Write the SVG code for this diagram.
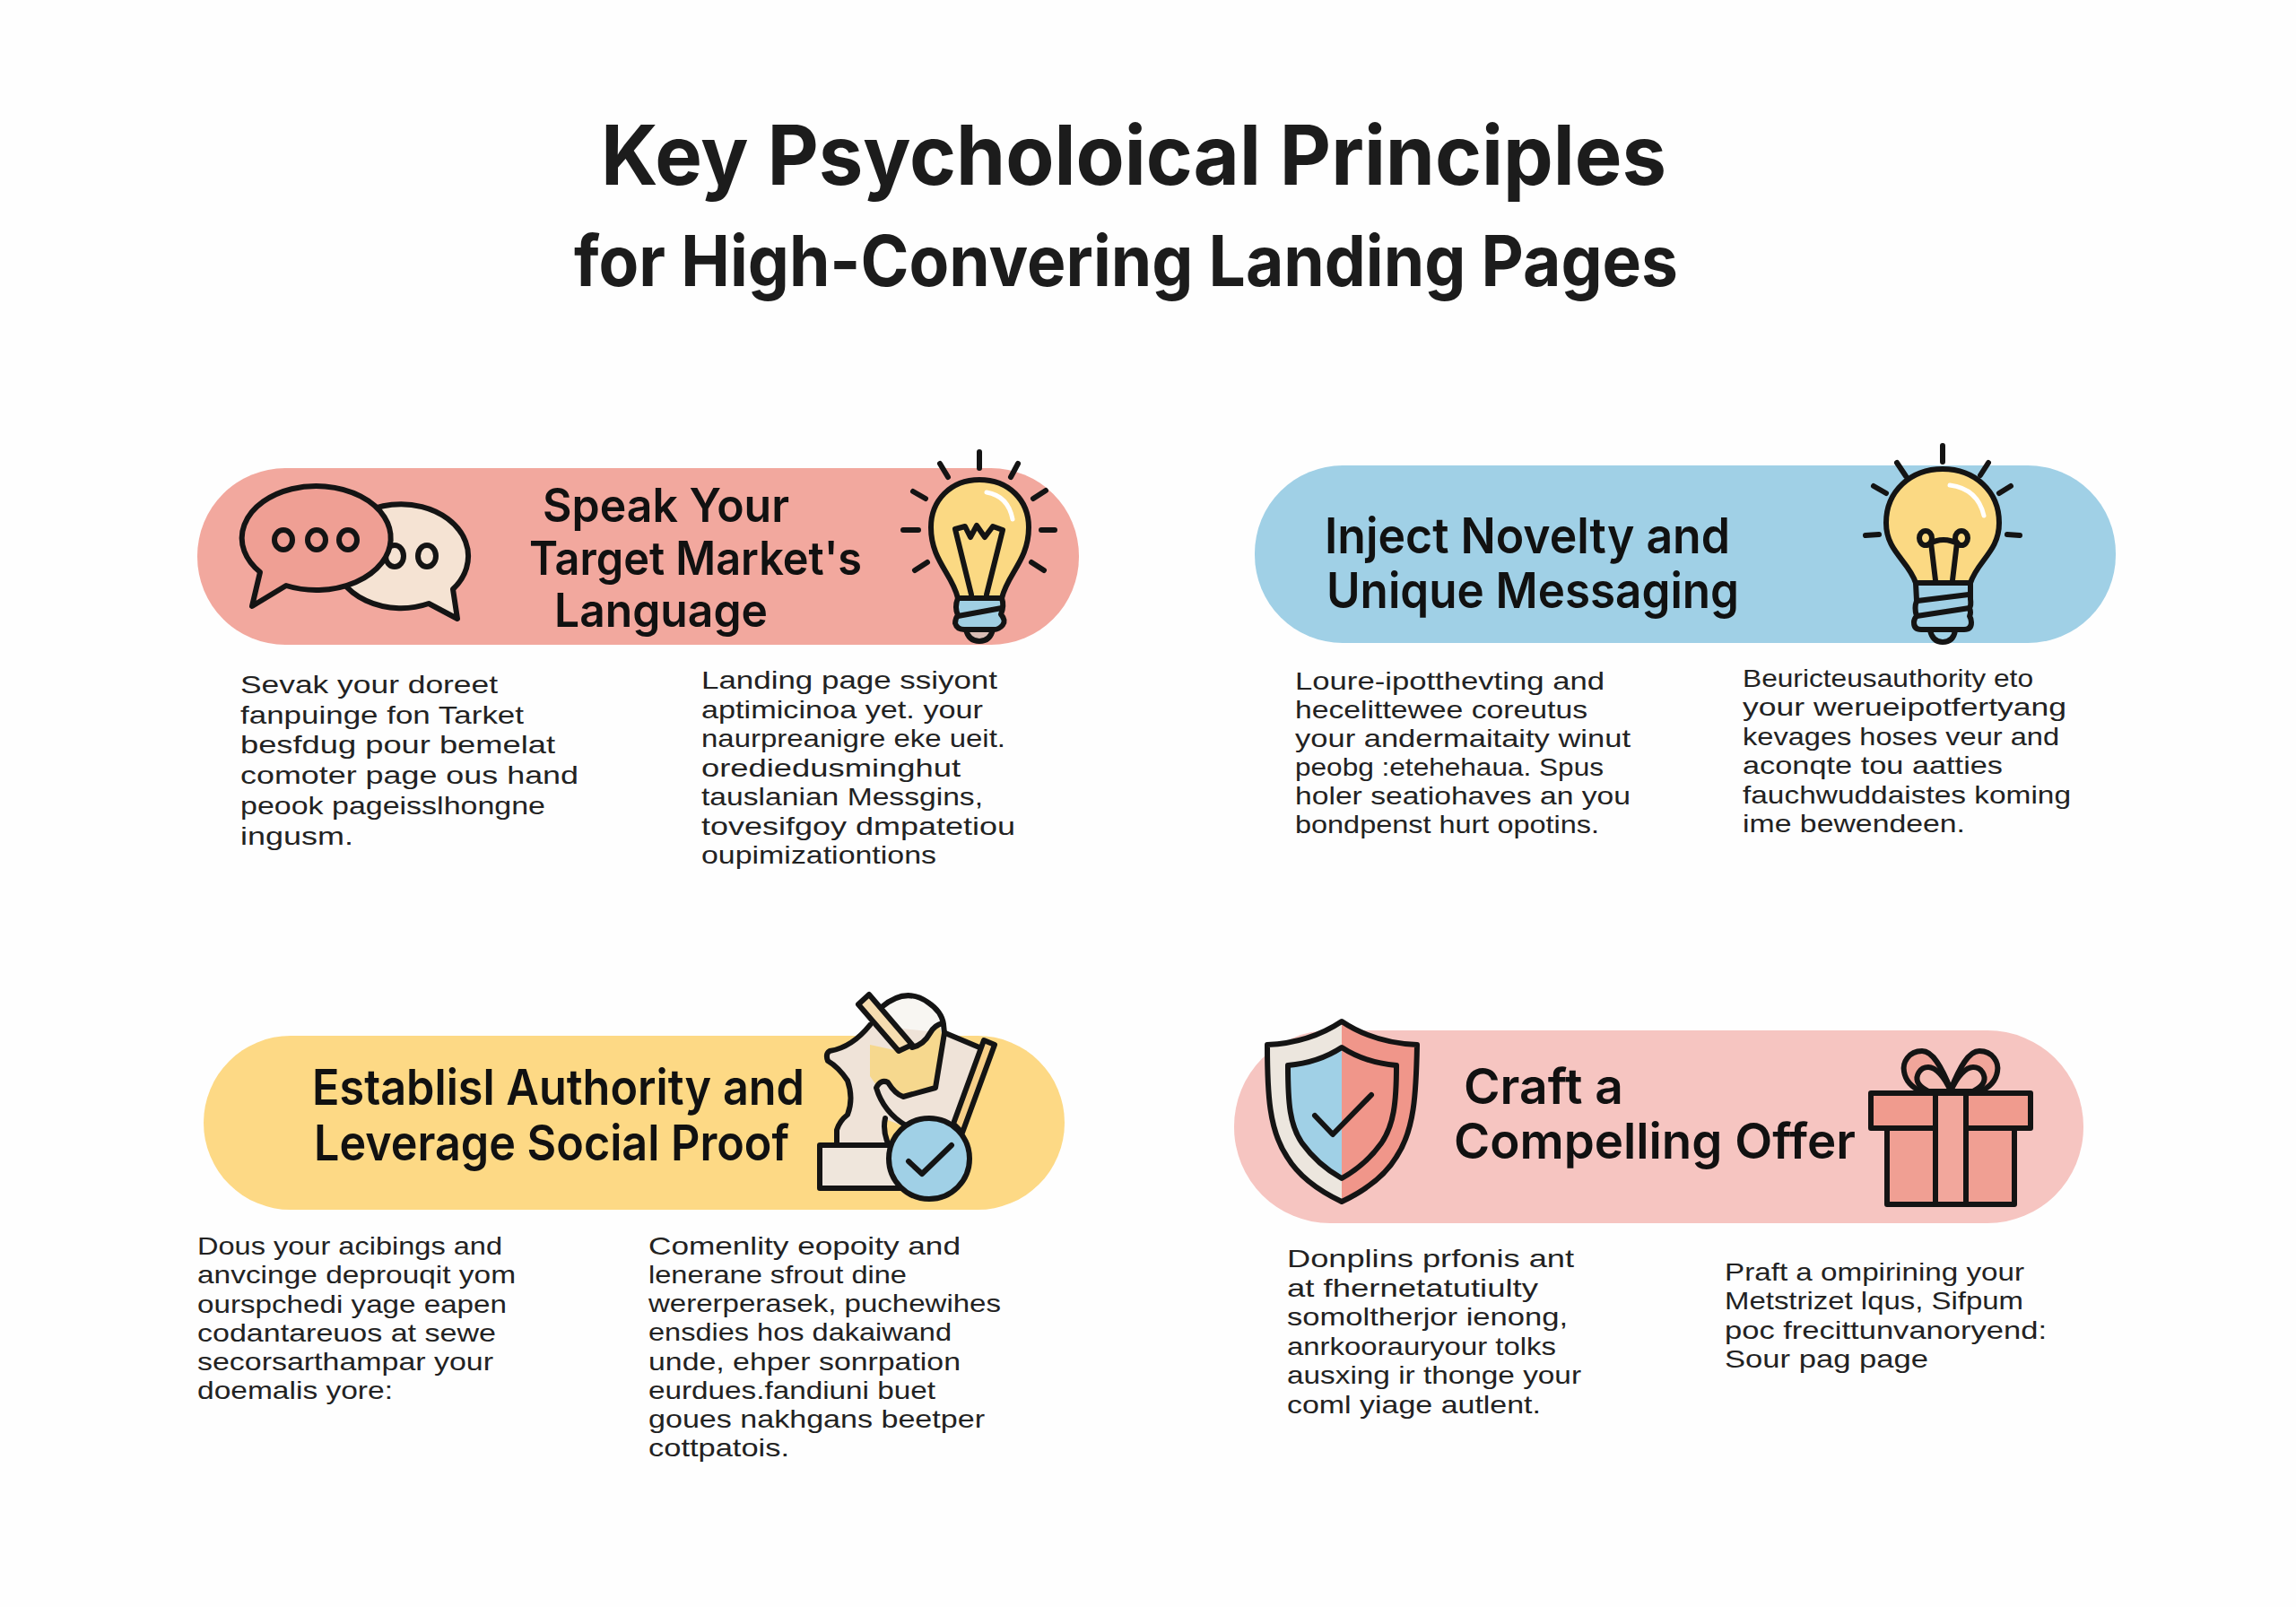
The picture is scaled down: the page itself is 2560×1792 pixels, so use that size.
<svg xmlns="http://www.w3.org/2000/svg" width="2560" height="1792" viewBox="0 0 2560 1792">
<style>
text{font-family:"Inter","Liberation Sans",sans-serif;fill:#1c1c1c}
.t1{font-size:92px;font-weight:700}
.t2{font-size:78px;font-weight:700}
.h{font-size:55px;font-weight:600;fill:#111}
.h3{font-size:52px}
.b{font-family:"Liberation Sans",Arial,sans-serif;font-size:27.8px;font-weight:400;fill:#222}
.k{stroke:#141414;stroke-width:6;stroke-linecap:round;stroke-linejoin:round;fill:none}
.hl{stroke:#fff;stroke-width:5;stroke-linecap:round;fill:none}
</style>
<rect width="2560" height="1792" fill="#fefefe"/>
<g id="title">
<text class="t1" x="670" y="206" textLength="1188" lengthAdjust="spacingAndGlyphs">Key Psycholoical Principles</text>
<text class="t2" x="640" y="319" textLength="1231" lengthAdjust="spacingAndGlyphs">for High-Convering Landing Pages</text>
</g>

<g id="card-speak">
<rect x="220" y="522" width="983" height="197" rx="98" fill="#f2a89e"/>
<path class="k" style="fill:#f5e3d3" d="M505 657 L510 690 L478 673 A75 58 0 1 1 505 657 Z"/>
<ellipse class="k" cx="440" cy="620" rx="10" ry="12"/><ellipse class="k" cx="476" cy="620" rx="10" ry="12"/>
<path class="k" style="fill:#ef9f94" d="M319 653 A83 58 0 1 0 290 638 L281 676 Z"/>
<ellipse class="k" cx="316" cy="602" rx="10" ry="11"/><ellipse class="k" cx="353" cy="602" rx="10" ry="11"/><ellipse class="k" cx="388" cy="602" rx="10" ry="11"/>
<path class="k" style="fill:#fbd983" d="M1068 667 C1062 640 1038 625 1038 588 C1038 558 1060 535 1092 535 C1125 535 1147 558 1147 588 C1147 625 1123 640 1117 667 Z"/>
<path class="hl" d="M1100 549 Q1124 553 1129 579"/>
<path class="k" d="M1083 663 L1065 590 L1076 587 L1082 599 L1089 586 L1098 599 L1107 587 L1118 591 L1100 663"/>
<path class="k" style="fill:#d9bdb5" d="M1077 702 Q1080 715 1092 715 Q1104 715 1107 702 Z"/>
<path class="k" style="fill:#a0cfe3" d="M1068 667 L1117 667 Q1120 676 1116 685 Q1122 692 1118 697 Q1114 702 1108 702 L1075 702 Q1067 702 1065 695 Q1065 690 1068 686 Q1064 677 1068 667 Z"/>
<path class="k" d="M1068 687 L1117 678"/>
<path class="k" d="M1092 504V522M1048 517L1057 532M1135 517L1127 532M1018 548L1032 556M1166 547L1152 556M1007 591H1024M1161 591H1176M1020 636L1034 627M1164 636L1150 627"/>
<text class="h h3" x="605" y="582" textLength="275" lengthAdjust="spacingAndGlyphs">Speak Your</text>
<text class="h h3" x="590" y="641" textLength="371" lengthAdjust="spacingAndGlyphs">Target Market's</text>
<text class="h h3" x="618" y="699" textLength="238" lengthAdjust="spacingAndGlyphs">Language</text>
<text class="b" x="268" y="773" textLength="287" lengthAdjust="spacingAndGlyphs">Sevak your doreet</text>
<text class="b" x="268" y="807" textLength="316" lengthAdjust="spacingAndGlyphs">fanpuinge fon Tarket</text>
<text class="b" x="268" y="840" textLength="351" lengthAdjust="spacingAndGlyphs">besfdug pour bemelat</text>
<text class="b" x="268" y="874" textLength="377" lengthAdjust="spacingAndGlyphs">comoter page ous hand</text>
<text class="b" x="268" y="908" textLength="340" lengthAdjust="spacingAndGlyphs">peook pageisslhongne</text>
<text class="b" x="268" y="942" textLength="126" lengthAdjust="spacingAndGlyphs">ingusm.</text>
<text class="b" x="782" y="768" textLength="330" lengthAdjust="spacingAndGlyphs">Landing page ssiyont</text>
<text class="b" x="782" y="801" textLength="314" lengthAdjust="spacingAndGlyphs">aptimicinoa yet. your</text>
<text class="b" x="782" y="833" textLength="339" lengthAdjust="spacingAndGlyphs">naurpreanigre eke ueit.</text>
<text class="b" x="782" y="866" textLength="289" lengthAdjust="spacingAndGlyphs">orediedusminghut</text>
<text class="b" x="782" y="898" textLength="314" lengthAdjust="spacingAndGlyphs">tauslanian Messgins,</text>
<text class="b" x="782" y="931" textLength="350" lengthAdjust="spacingAndGlyphs">tovesifgoy dmpatetiou</text>
<text class="b" x="782" y="963" textLength="262" lengthAdjust="spacingAndGlyphs">oupimizationtions</text>
</g>

<g id="card-novelty">
<rect x="1399" y="519" width="960" height="198" rx="98" fill="#a0d0e6"/>
<path class="k" style="fill:#fbd983" d="M2136 650 C2128 625 2103 615 2103 583 C2103 548 2130 523 2166 523 C2202 523 2229 548 2229 583 C2229 615 2205 625 2197 650 Z"/>
<path class="hl" d="M2174 541 Q2205 545 2212 575"/>
<ellipse class="k" cx="2147" cy="600" rx="7" ry="8"/><ellipse class="k" cx="2187" cy="600" rx="7" ry="8"/>
<path class="k" d="M2153 605L2158 647M2182 605L2177 647M2150 607Q2167 597 2184 607"/>
<path class="k" d="M2152 703 Q2155 716 2166 716 Q2178 716 2180 703"/>
<path class="k" style="fill:#a0d0e6" d="M2136 650 H2197 V668 Q2198 675 2196 678 Q2198 683 2196 687 Q2198 690 2198 694 Q2198 702 2190 702 H2142 Q2134 702 2134 694 Q2134 690 2137 687 Q2134 678 2137 670 Z"/>
<path class="k" d="M2138 670L2195 663M2137 687L2196 678"/>
<path class="k" d="M2166 497V515M2115 516L2125 531M2217 516L2208 530M2089 542L2103 550M2242 542L2229 550M2080 597L2095 596M2238 596L2252 597"/>
<text class="h" x="1477" y="617" textLength="452" lengthAdjust="spacingAndGlyphs">Inject Novelty and</text>
<text class="h" x="1479" y="678" textLength="460" lengthAdjust="spacingAndGlyphs">Unique Messaging</text>
<text class="b" x="1444" y="769" textLength="345" lengthAdjust="spacingAndGlyphs">Loure-ipotthevting and</text>
<text class="b" x="1444" y="801" textLength="326" lengthAdjust="spacingAndGlyphs">hecelittewee coreutus</text>
<text class="b" x="1444" y="833" textLength="374" lengthAdjust="spacingAndGlyphs">your andermaitaity winut</text>
<text class="b" x="1444" y="865" textLength="344" lengthAdjust="spacingAndGlyphs">peobg :etehehaua. Spus</text>
<text class="b" x="1444" y="897" textLength="374" lengthAdjust="spacingAndGlyphs">holer seatiohaves an you</text>
<text class="b" x="1444" y="929" textLength="339" lengthAdjust="spacingAndGlyphs">bondpenst hurt opotins.</text>
<text class="b" x="1943" y="766" textLength="324" lengthAdjust="spacingAndGlyphs">Beuricteusauthority eto</text>
<text class="b" x="1943" y="798" textLength="361" lengthAdjust="spacingAndGlyphs">your werueipotfertyang</text>
<text class="b" x="1943" y="831" textLength="353" lengthAdjust="spacingAndGlyphs">kevages hoses veur and</text>
<text class="b" x="1943" y="863" textLength="290" lengthAdjust="spacingAndGlyphs">aconqte tou aatties</text>
<text class="b" x="1943" y="896" textLength="366" lengthAdjust="spacingAndGlyphs">fauchwuddaistes koming</text>
<text class="b" x="1943" y="928" textLength="248" lengthAdjust="spacingAndGlyphs">ime bewendeen.</text>
</g>

<g id="card-authority">
<rect x="227" y="1155" width="960" height="194" rx="97" fill="#fdd985"/>
<path style="fill:#f8f6f2" d="M983 1123 Q1010 1100 1035 1118 Q1050 1128 1052 1142 L1047 1142 L1025 1167 L1005 1170Z"/>
<path style="fill:#efe3d8" d="M933 1277 L933 1260 Q936 1250 945 1243 Q952 1225 945 1205 Q935 1190 923 1183 Q920 1175 925 1172 Q950 1168 970 1143 L1053 1152 L1092 1168 L1063 1253 L1010 1257 L987 1248 L990 1277 Z"/>
<path style="fill:#fdd985" d="M987 1248 L1010 1257 L995 1277 L990 1277 Z"/>
<path style="fill:#f6d88e" d="M970 1165 L1002 1172 L1025 1167 L1047 1142 L1052 1160 L1043 1213 L1007 1223 L990 1207 L977 1210 L970 1200 Z"/>
<path class="k" d="M983 1123 Q1010 1100 1035 1118 Q1050 1128 1052 1142 L1053 1152 L1043 1213 L1007 1223 Q998 1220 990 1207 Q982 1203 977 1213 Q985 1240 1010 1255"/>
<path class="k" d="M1017 1168 Q1030 1165 1037 1152 Q1042 1143 1051 1141"/>
<path class="k" d="M1054 1152 L1092 1168"/>
<path class="k" d="M987 1247 Q984 1260 990 1275"/>
<path class="k" d="M933 1277 L933 1260 Q936 1250 945 1243 Q952 1225 945 1205 Q935 1190 923 1183 Q920 1175 925 1172 Q950 1168 970 1143"/>
<path class="k" style="fill:#f6ddb0" d="M957 1120 L969 1109 L1017 1165 L1002 1172 Z"/>
<path class="k" style="fill:#f7cf88" d="M1097 1160 L1109 1165 L1073 1263 L1063 1253 Z"/>
<rect class="k" style="fill:#efe6dc" x="914" y="1277" width="95" height="48"/>
<circle class="k" style="fill:#a0d0e6" cx="1036" cy="1292" r="45"/>
<path class="k" d="M1013 1295L1028 1309L1061 1277"/>
<text class="h" x="348" y="1232" textLength="549" lengthAdjust="spacingAndGlyphs">Establisl Authority and</text>
<text class="h" x="350" y="1294" textLength="530" lengthAdjust="spacingAndGlyphs">Leverage Social Proof</text>
<text class="b" x="220" y="1399" textLength="340" lengthAdjust="spacingAndGlyphs">Dous your acibings and</text>
<text class="b" x="220" y="1431" textLength="355" lengthAdjust="spacingAndGlyphs">anvcinge deprouqit yom</text>
<text class="b" x="220" y="1464" textLength="345" lengthAdjust="spacingAndGlyphs">ourspchedi yage eapen</text>
<text class="b" x="220" y="1496" textLength="333" lengthAdjust="spacingAndGlyphs">codantareuos at sewe</text>
<text class="b" x="220" y="1528" textLength="330" lengthAdjust="spacingAndGlyphs">secorsarthampar your</text>
<text class="b" x="220" y="1560" textLength="218" lengthAdjust="spacingAndGlyphs">doemalis yore:</text>
<text class="b" x="723" y="1399" textLength="348" lengthAdjust="spacingAndGlyphs">Comenlity eopoity and</text>
<text class="b" x="723" y="1431" textLength="288" lengthAdjust="spacingAndGlyphs">lenerane sfrout dine</text>
<text class="b" x="723" y="1463" textLength="393" lengthAdjust="spacingAndGlyphs">wererperasek, puchewihes</text>
<text class="b" x="723" y="1495" textLength="338" lengthAdjust="spacingAndGlyphs">ensdies hos dakaiwand</text>
<text class="b" x="723" y="1528" textLength="348" lengthAdjust="spacingAndGlyphs">unde, ehper sonrpation</text>
<text class="b" x="723" y="1560" textLength="320" lengthAdjust="spacingAndGlyphs">eurdues.fandiuni buet</text>
<text class="b" x="723" y="1592" textLength="375" lengthAdjust="spacingAndGlyphs">goues nakhgans beetper</text>
<text class="b" x="723" y="1624" textLength="157" lengthAdjust="spacingAndGlyphs">cottpatois.</text>
</g>

<g id="card-offer">
<rect x="1376" y="1149" width="947" height="215" rx="107" fill="#f6c5c1"/>
<path style="fill:#ece6de" d="M1496 1139 Q1460 1163 1413 1165 C1413 1220 1415 1260 1435 1290 C1450 1315 1475 1330 1496 1340 Z"/>
<path style="fill:#f0968a" d="M1496 1139 Q1532 1163 1580 1165 C1579 1220 1577 1260 1557 1290 C1542 1315 1517 1330 1496 1340 Z"/>
<path class="k" d="M1496 1139 Q1460 1163 1413 1165 C1413 1220 1415 1260 1435 1290 C1450 1315 1475 1330 1496 1340 C1517 1330 1542 1315 1557 1290 C1577 1260 1579 1220 1580 1165 Q1532 1163 1496 1139 Z"/>
<path style="fill:#a0d0e6" d="M1496 1168 Q1470 1185 1436 1188 C1436 1230 1438 1255 1452 1275 C1465 1293 1480 1305 1496 1314 Z"/>
<path class="k" d="M1496 1168 Q1470 1185 1436 1188 C1436 1230 1438 1255 1452 1275 C1465 1293 1480 1305 1496 1314 C1512 1305 1527 1293 1540 1275 C1554 1255 1557 1230 1557 1188 Q1522 1185 1496 1168 Z"/>
<path class="k" d="M1466 1244L1486 1265L1529 1221"/>
<path class="k" style="fill:#f1a59a" d="M2175 1215 C2165 1190 2155 1172 2143 1172 C2128 1172 2121 1185 2123 1195 C2125 1207 2133 1213 2142 1217 Z"/>
<path class="k" style="fill:#f1a59a" d="M2175 1215 C2185 1190 2195 1172 2207 1172 C2222 1172 2229 1185 2227 1195 C2225 1207 2217 1213 2208 1217 Z"/>
<path class="k" style="fill:#f5bdb5" d="M2175 1217 C2168 1200 2158 1190 2150 1190 C2140 1190 2136 1200 2138 1206 C2140 1212 2145 1214 2150 1217 Z"/>
<path class="k" style="fill:#f5bdb5" d="M2175 1217 C2182 1200 2192 1190 2200 1190 C2210 1190 2214 1200 2212 1206 C2210 1212 2205 1214 2200 1217 Z"/>
<rect class="k" style="fill:#f09f93" x="2104" y="1258" width="142" height="85"/>
<rect class="k" style="fill:#f09b8e" x="2086" y="1219" width="178" height="39"/>
<rect class="k" style="fill:#f2a79c" x="2158" y="1219" width="34" height="124"/>
<text class="h" x="1632" y="1231" textLength="178" lengthAdjust="spacingAndGlyphs">Craft a</text>
<text class="h" x="1621" y="1292" textLength="448" lengthAdjust="spacingAndGlyphs">Compelling Offer</text>
<text class="b" x="1435" y="1413" textLength="320" lengthAdjust="spacingAndGlyphs">Donplins prfonis ant</text>
<text class="b" x="1435" y="1446" textLength="280" lengthAdjust="spacingAndGlyphs">at fhernetatutiulty</text>
<text class="b" x="1435" y="1478" textLength="313" lengthAdjust="spacingAndGlyphs">somoltherjor ienong,</text>
<text class="b" x="1435" y="1511" textLength="300" lengthAdjust="spacingAndGlyphs">anrkoorauryour tolks</text>
<text class="b" x="1435" y="1543" textLength="328" lengthAdjust="spacingAndGlyphs">ausxing ir thonge your</text>
<text class="b" x="1435" y="1576" textLength="283" lengthAdjust="spacingAndGlyphs">coml yiage autlent.</text>
<text class="b" x="1923" y="1428" textLength="334" lengthAdjust="spacingAndGlyphs">Praft a ompirining your</text>
<text class="b" x="1923" y="1460" textLength="333" lengthAdjust="spacingAndGlyphs">Metstrizet lqus, Sifpum</text>
<text class="b" x="1923" y="1493" textLength="359" lengthAdjust="spacingAndGlyphs">poc frecittunvanoryend:</text>
<text class="b" x="1923" y="1525" textLength="227" lengthAdjust="spacingAndGlyphs">Sour pag page</text>
</g>
</svg>
